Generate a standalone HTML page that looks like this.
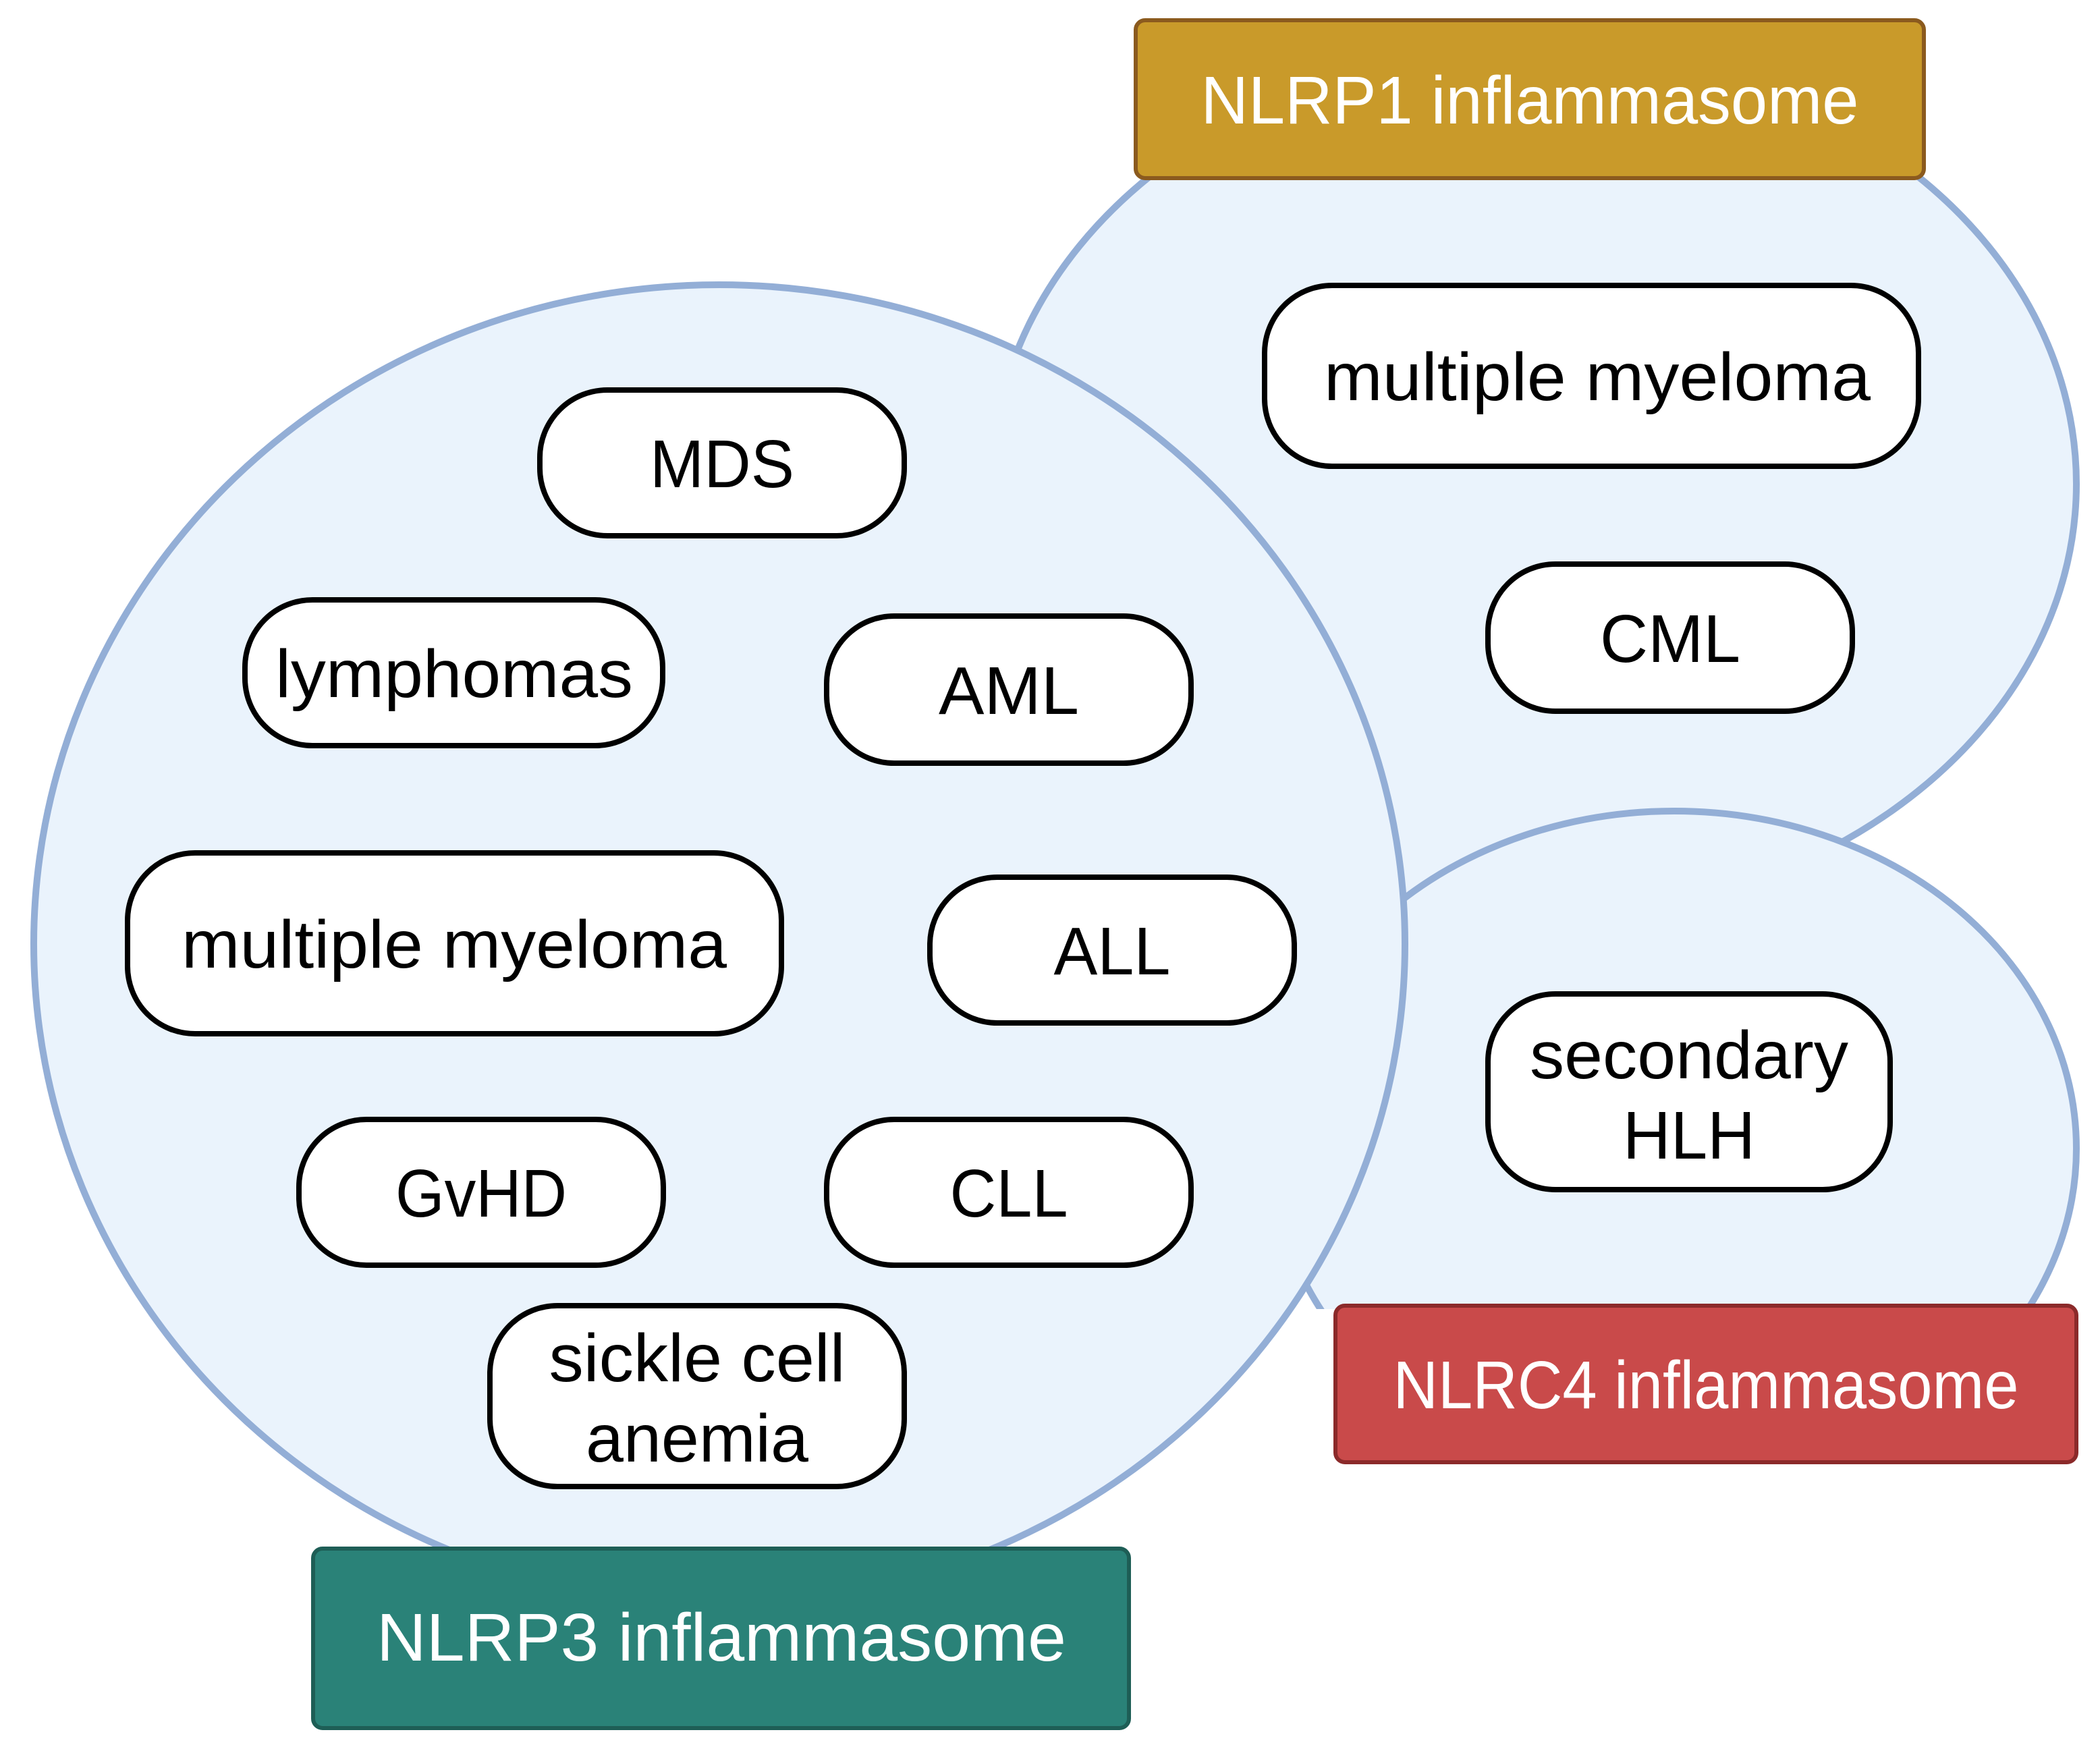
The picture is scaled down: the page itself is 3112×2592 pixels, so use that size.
<!DOCTYPE html>
<html><head><meta charset="utf-8"><style>html,body{margin:0;padding:0;background:#fff}svg{display:block}</style></head>
<body>
<svg width="3112" height="2592" viewBox="0 0 3112 2592" xmlns="http://www.w3.org/2000/svg" font-family="'Liberation Sans', sans-serif" font-size="100" text-anchor="middle">
<defs><clipPath id="c"><rect x="0" y="0" width="3112" height="1940"/></clipPath></defs>
<g fill="#EAF3FC" stroke="#93AED6" stroke-width="10">
<ellipse cx="2273" cy="717" rx="804" ry="645"/>
<ellipse cx="2481" cy="1702" rx="596" ry="500" clip-path="url(#c)"/>
<ellipse cx="1066" cy="1399" rx="1016" ry="977"/>
</g>
<g fill="#fff" stroke="#000" stroke-width="8">
<rect x="800" y="578" width="540" height="216" rx="100"/>
<rect x="363" y="889" width="619" height="216" rx="100"/>
<rect x="1225" y="913" width="540" height="218" rx="100"/>
<rect x="189" y="1264" width="969" height="268" rx="100"/>
<rect x="1378" y="1300" width="540" height="216" rx="100"/>
<rect x="443" y="1659" width="540" height="216" rx="100"/>
<rect x="1225" y="1659" width="540" height="216" rx="100"/>
<rect x="726" y="1935" width="614" height="268" rx="100"/>
<rect x="1874" y="423" width="969" height="268" rx="100"/>
<rect x="2205" y="836" width="540" height="218" rx="100"/>
<rect x="2205" y="1473" width="596" height="290" rx="100"/>
</g>
<g fill="#000">
<text x="1070" y="722" textLength="214" lengthAdjust="spacingAndGlyphs">MDS</text>
<text x="673" y="1033" textLength="530" lengthAdjust="spacingAndGlyphs">lymphomas</text>
<text x="1495" y="1058" textLength="208" lengthAdjust="spacingAndGlyphs">AML</text>
<text x="673" y="1434" textLength="808" lengthAdjust="spacingAndGlyphs">multiple myeloma</text>
<text x="1648" y="1444" textLength="173" lengthAdjust="spacingAndGlyphs">ALL</text>
<text x="713" y="1803" textLength="254" lengthAdjust="spacingAndGlyphs">GvHD</text>
<text x="1495" y="1803" textLength="175" lengthAdjust="spacingAndGlyphs">CLL</text>
<text x="1033" y="2047" textLength="439" lengthAdjust="spacingAndGlyphs">sickle cell</text>
<text x="1033" y="2166" textLength="330" lengthAdjust="spacingAndGlyphs">anemia</text>
<text x="2367" y="593" textLength="810" lengthAdjust="spacingAndGlyphs">multiple myeloma</text>
<text x="2475" y="981" textLength="208" lengthAdjust="spacingAndGlyphs">CML</text>
<text x="2503" y="1598" textLength="472" lengthAdjust="spacingAndGlyphs">secondary</text>
<text x="2503" y="1717" textLength="196" lengthAdjust="spacingAndGlyphs">HLH</text>
</g>
<rect x="1683" y="30" width="1168" height="234" rx="14" fill="#C99A2A" stroke="#8B5A1E" stroke-width="6"/>
<rect x="1979" y="1935" width="1098" height="232" rx="14" fill="#C94A4A" stroke="#8B2A2A" stroke-width="6"/>
<rect x="464" y="2295" width="1209" height="266" rx="14" fill="#2A8278" stroke="#1E5E56" stroke-width="6"/>
<g fill="#fff">
<text x="2267" y="183" textLength="975" lengthAdjust="spacingAndGlyphs">NLRP1 inflammasome</text>
<text x="2528" y="2087" textLength="927" lengthAdjust="spacingAndGlyphs">NLRC4 inflammasome</text>
<text x="1069" y="2461" textLength="1022" lengthAdjust="spacingAndGlyphs">NLRP3 inflammasome</text>
</g>
</svg>
</body></html>
